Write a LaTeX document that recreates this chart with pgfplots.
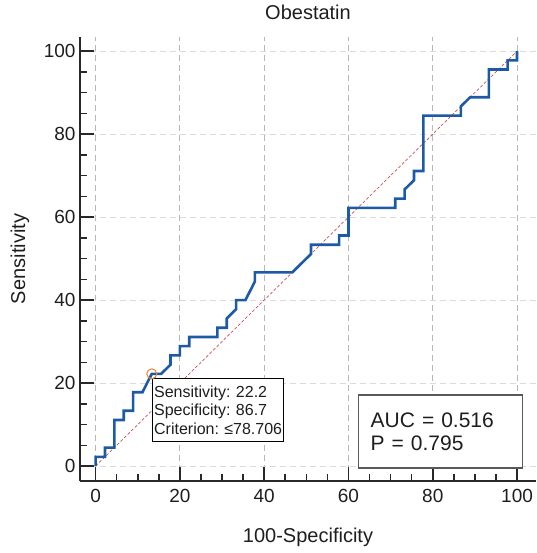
\documentclass[border=0pt]{standalone}
\usepackage{fontspec}
\setmainfont{Liberation Sans}
\usepackage{pgfplots}
\pgfplotsset{compat=1.18}
\definecolor{rocblue}{RGB}{28,90,166}
\definecolor{diagred}{RGB}{205,80,80}
\definecolor{markorange}{RGB}{240,130,50}
\definecolor{axisgray}{RGB}{40,40,40}
\definecolor{txt}{RGB}{30,30,30}
\frenchspacing
\begin{document}
\begin{tikzpicture}
\useasboundingbox (-80pt,-72pt) rectangle (456pt,481pt);
\begin{axis}[
  at={(0pt,0pt)}, anchor=south west,
  scale only axis, width=456pt, height=444pt,
  xmin=-3.7, xmax=104.5, ymin=-3.6, ymax=103.4,
  axis x line=bottom, axis y line=left,
  axis line style={-, line width=2pt, color=axisgray},
  xtick={0,20,...,100}, ytick={0,20,...,100},
  minor tick num=3,
  tick align=inside,
  major tick length=14pt, minor tick length=7pt,
  every tick/.style={line width=1.6pt, color=axisgray},
  grid=major,
  x grid style={dash pattern=on 6pt off 4pt, color=black!28, line width=0.8pt},
  y grid style={dash pattern=on 6pt off 4pt, color=black!14, line width=0.8pt},
  /pgf/number format/assume math mode=true,
  tick label style={font=\fontsize{19}{19}\selectfont, text=txt},
  xticklabel style={yshift=-5pt},
  yticklabel style={xshift=-1pt},
  title={Obestatin},
  title style={font=\fontsize{20}{20}\selectfont, text=txt, at={(0.5,1)}, anchor=center, yshift=19pt},
  xlabel={100-Specificity},
  xlabel style={font=\fontsize{20}{20}\selectfont, text=txt, at={(0.5,0)}, anchor=center, yshift=-56pt},
  ylabel={Sensitivity},
  ylabel style={font=\fontsize{20}{20}\selectfont, text=txt, at={(axis description cs:-0.1316,0.5)}, anchor=center},
  clip=false,
]
\addplot[diagred, line width=0.7pt, dash pattern=on 3pt off 2pt] coordinates {(0,0) (100,100)};
\addplot[rocblue, line width=2.6pt] coordinates {
(0,0) (0,2.22) (2.22,2.22) (2.22,4.44) (4.44,4.44) (4.44,11.11) (6.67,11.11) (6.67,13.33)
(8.89,13.33) (8.89,17.78) (11.11,17.78) (13.33,22.22) (15.56,22.22) (17.78,24.44) (17.78,26.67)
(20.00,26.67) (20.00,28.89) (22.22,28.89) (22.22,31.11) (28.89,31.11) (28.89,33.33) (31.11,33.33)
(31.11,35.56) (33.33,37.78) (33.33,40.00) (35.56,40.00) (37.78,44.44) (37.78,46.67) (46.67,46.67)
(51.11,51.11) (51.11,53.33) (57.78,53.33) (57.78,55.56) (60.00,55.56) (60.00,62.22) (71.11,62.22)
(71.11,64.44) (73.33,64.44) (73.33,66.67) (75.56,68.89) (75.56,71.11) (77.78,71.11) (77.78,84.44)
(86.67,84.44) (86.67,86.67) (88.89,88.89) (93.33,88.89) (93.33,95.56) (97.78,95.56) (97.78,97.78)
(100,97.78) (100,100)
};
\addplot[only marks, mark=o, mark size=5pt, markorange, line width=1pt] coordinates {(13.33,22.22)};
\node[draw=black, line width=0.8pt, fill=white, anchor=north west, inner xsep=1.5pt, inner ysep=0pt,
  text width=128pt, align=left, minimum height=62.7pt, text=txt,
  font=\fontsize{16}{18.7}\selectfont] at (axis cs:13.45,21.15)
  {Sensitivity: 22.2\\Specificity: 86.7\\Criterion: ≤78.706};
\node[draw=black!65, line width=1.5pt, fill=white, anchor=north west, inner xsep=12pt, inner ysep=0pt,
  text width=140pt, align=left, minimum height=73pt, text=txt,
  font=\fontsize{21}{23}\selectfont] at (axis cs:62.25,17.36)
  {AUC = 0.516\\P = 0.795};
\end{axis}
\end{tikzpicture}
\end{document}
